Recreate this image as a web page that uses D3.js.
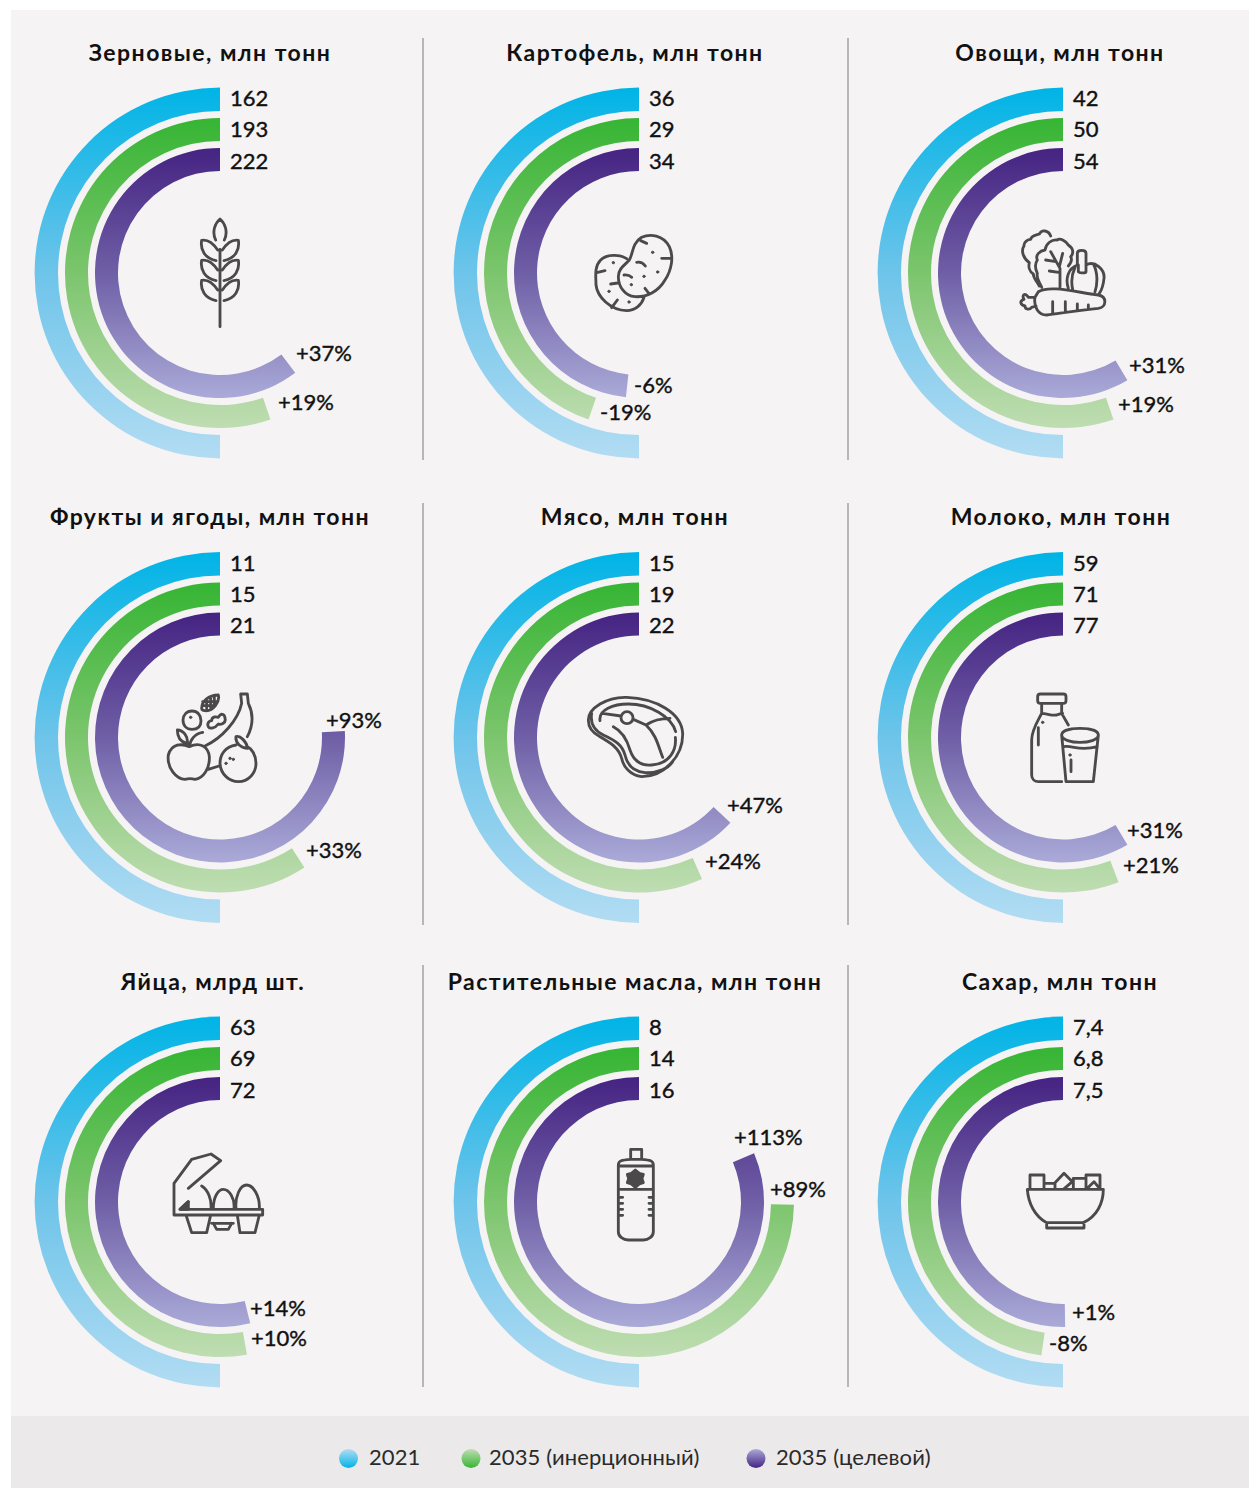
<!DOCTYPE html>
<html>
<head>
<meta charset="utf-8">
<script src="https://cdn.jsdelivr.net/npm/d3@7"></script>
<style>
body { margin: 0; background: #fff; }
text { font-family: Lato, sans-serif; fill: #111; }
.title { font-size: 23px; font-weight: 700; letter-spacing: 1.45px; text-anchor: middle; }
.val { font-size: 22px; font-weight: 400; stroke: #111; stroke-width: 0.4px; }
.pct { font-size: 22px; font-weight: 400; stroke: #111; stroke-width: 0.4px; }
.leg { font-size: 22px; font-weight: 400; fill: #2a2a2a; letter-spacing: 0.1px; }
.icon { fill: none; stroke: #4a4a4a; stroke-width: 8.5; stroke-linecap: round; stroke-linejoin: round; }
.icon .dot { fill: #4a4a4a; stroke-width: 3; }
</style>
</head>
<body>
<div id="vis"></div>
<script>
const titles = ["Зерновые, млн тонн", "Картофель, млн тонн", "Овощи, млн тонн",
    "Фрукты и ягоды, млн тонн", "Мясо, млн тонн", "Молоко, млн тонн",
    "Яйца, млрд шт.", "Растительные масла, млн тонн", "Сахар, млн тонн"];
const values2021 = [162, 36, 42, 11, 15, 59, 63, 8, 7.4];
const valuesInert = [193, 29, 50, 15, 19, 71, 69, 14, 6.8];
const valuesTarget = [222, 34, 54, 21, 22, 77, 72, 16, 7.5];
const pctInert = [19, -19, 19, 33, 24, 21, 10, 89, -8];
const pctTarget = [37, -6, 31, 93, 47, 31, 14, 113, 1];
const legendLabels = ["2021", "2035 (инерционный)", "2035 (целевой)"];
const iconNames = ["wheat", "potato", "veg", "fruit", "meat", "milk", "eggs", "oil", "sugar"];

// layout
const width = 1249, height = 1488;
const colX = [220, 639, 1063], rowY = [273, 737.5, 1202];
const titleX = [[210, 635, 1060], [210, 635, 1061], [213, 635, 1060]];
const titleY = [61, 525, 990];
const dividerX = [423, 848];
const dividerY = [[38, 460], [503, 925], [965, 1387]];
const rings = [
    { inner: 162, outer: 185.4, id: "blue", top: "#00b4e6", mid: "#6ec4ea", bottom: "#b2dcf3", labelY: -167 },
    { inner: 132, outer: 155, id: "green", top: "#36b534", mid: "#7cc56d", bottom: "#bfddb2", labelY: -136 },
    { inner: 102, outer: 125, id: "purple", top: "#452382", mid: "#6f5fa6", bottom: "#aaaad8", labelY: -104.5 }
];
// where the % labels sit, [x, middle y] of each one
const posInert = [[278, 402.5], [600, 412.5], [1118, 404.5], [306, 850.5], [705, 861.5], [1123, 865.5], [251, 1338.5], [770, 1189.5], [1049, 1343.5]];
const posTarget = [[296, 353.5], [634, 385.5], [1129, 365.5], [326, 720.5], [727, 805.5], [1127, 830.5], [250, 1308.5], [734, 1137.5], [1072, 1312.5]];

// icons are traced at 3x, origin is top left of the crop
const icons = {
    wheat: { at: [150, 190], d: `M210 410V178 M197 150C185 125 195 100 210 87C225 100 235 125 223 150
        M203 180C188 158 172 148 155 151C150 180 165 205 198 212 M217 180C232 158 248 148 265 151C270 180 255 205 222 212
        M203 240C188 218 172 208 155 211C150 240 165 265 198 272 M217 240C232 218 248 208 265 211C270 240 255 265 222 272
        M203 300C188 278 172 268 155 271C150 300 165 325 198 332 M217 300C232 278 248 268 265 271C270 300 255 325 222 332`, dots: [] },
    potato: { at: [570, 210], d: `M145 200C145 175 165 165 178 150C190 130 185 100 215 82C240 70 280 75 298 110C312 140 305 180 285 210C265 245 230 262 195 260C165 258 145 230 145 200Z
        M170 146C150 132 110 132 92 150C72 170 78 200 78 225C82 260 120 300 170 302C195 302 215 285 222 262
        M212 92L230 100 M275 145H303 M200 157C210 155 220 160 226 168 M162 195C172 194 180 197 185 202 M225 235L238 252
        M122 222L143 219 M80 188L105 182 M142 270L125 293`,
        dots: [[248, 127], [263, 186], [222, 199], [184, 224], [130, 158], [117, 244], [177, 276]] },
    veg: { at: [1000, 210], d: `M118 228C110 212 100 205 100 192C88 185 85 170 88 158C70 145 62 122 72 108C70 95 85 88 92 88C95 75 112 75 118 72C125 58 145 60 152 78
        M125 232C118 215 108 205 112 190C105 175 105 160 112 150C105 135 120 122 135 120C138 100 155 88 172 90C180 82 200 95 205 105C220 115 222 130 212 140C218 150 212 160 205 168
        M180 232V175L152 125 M168 155L137 150 M178 170L188 130 M176 187L148 183
        M232 165V130C232 118 258 118 258 130V185C258 190 240 190 235 185V165 M205 235C195 205 205 175 232 165 M258 165C285 150 315 180 312 205C310 225 305 240 298 250
        M280 162C295 190 292 225 285 245 M225 172C212 200 215 225 218 238
        M115 245C150 225 220 245 295 255C322 260 320 292 295 295C240 300 180 310 140 315C115 315 100 290 105 262Z
        M158 275V310 M196 275V305 M232 282V300 M265 285V295
        M105 262H85C75 245 65 255 72 268C58 272 60 285 75 288C75 300 90 300 95 292L108 288`, dots: [] },
    fruit: { at: [150, 680], d: `M118 200C95 190 65 190 55 225C50 265 80 298 105 298C115 295 125 295 135 298C160 295 180 265 178 230C175 200 150 185 118 200Z
        M118 200C120 180 135 160 158 157 M110 190C90 185 82 170 82 150C100 150 115 170 112 190
        M258 195C225 200 210 225 210 250C212 285 240 305 265 305C295 305 318 280 318 250C318 225 305 205 290 200
        M258 170C270 165 290 185 293 205C275 205 255 190 258 170Z
        M165 198C215 175 265 120 275 70L272 42H292L295 70C310 100 310 135 292 170 M175 268L207 258
        M153 122C153 140 142 148 126 148C110 148 99 137 99 120C99 105 110 93 126 93C142 93 153 105 153 122Z
        M155 85C155 65 175 45 205 45C210 65 190 95 165 92C160 92 155 90 155 85Z M170 60V85 M182 50V85 M193 50V75 M158 65H202 M158 77H195
        M175 140C170 130 178 122 185 122C185 108 200 110 205 112C215 95 225 105 225 115C230 130 210 135 205 132C195 145 180 148 175 140Z`,
        dots: [[122, 112], [228, 250], [240, 235], [250, 238]] },
    meat: { at: [570, 680], d: `M55 120C55 85 110 50 170 52C260 55 335 100 338 160C340 230 280 290 215 290C180 285 160 260 155 235C145 200 115 185 90 170C70 160 55 145 55 120Z
        M65 100C60 130 70 150 100 165C130 180 155 190 165 225C172 255 190 275 225 278C265 280 295 265 308 245
        M90 122C85 90 130 72 175 72C240 72 305 110 317 155 M316 172C320 210 300 250 245 255C210 258 190 240 180 210C170 175 150 150 130 140
        M189 113C189 123 181 131 171 131C161 131 153 123 153 113C153 103 161 95 171 95C181 95 189 103 189 113Z M97 100L153 108
        M190 118L228 135C250 120 270 115 300 115 M228 135C260 165 265 200 278 232`, dots: [] },
    milk: { at: [1010, 680], d: `M91 42H160C165 42 168 46 168 50V62C168 66 165 70 160 70H91C86 70 83 66 83 62V50C83 46 86 42 91 42Z
        M95 70V100C85 120 65 150 65 180V285C65 298 75 305 85 305H155 M155 70V100L175 135
        M95 100C110 100 125 108 140 105C145 103 150 102 158 100 M85 195V143
        M155 165C155 150 185 145 210 145C235 145 265 150 265 165C265 180 235 187 210 187C185 187 155 180 155 165Z
        M155 165L168 305H250L265 165 M160 200C190 195 205 215 262 200 M183 275V240`,
        dots: [[98, 127], [180, 225]] },
    eggs: { at: [160, 1140], d: `M42 222V130L95 58L153 42L182 62L85 145 M60 208H308V225H42V222 M60 208L85 185
        M125 138C145 150 155 180 153 205 M160 205C160 170 175 148 190 148C207 148 225 175 222 205 M228 205C225 170 240 135 260 135C280 135 300 170 298 205
        M78 225L95 278H140L152 225 M232 225L240 278H285L298 225 M160 250L170 268H205L215 250 M155 250H220`, dots: [],
        fill: "M60 208L85 185V208Z" },
    oil: { at: [590, 1140], d: `M122 58V28H155V58 M85 148V75C85 62 95 60 122 58H155C180 60 190 62 190 75V148Z
        M85 148V275C85 290 100 300 115 300H160C175 300 190 290 190 275V148
        M85 172H98 M85 190H98 M85 208H98 M85 226H98 M190 172H177 M190 190H177 M190 208H177 M190 226H177
        M85 78H190`, dots: [],
        fill: "M136 90L148 100L160 103L156 116L160 128L148 132L136 142L124 132L112 128L116 116L112 103L124 100Z" },
    sugar: { at: [1010, 1160], d: `M52 88H280C280 130 260 170 220 188H110C75 170 55 130 52 88Z M110 188V204H222V188
        M60 88V45H102V88 M102 70H135V88 M135 68L162 40L187 65L160 88 M190 88V55H228 M228 88V45H270V88 M235 82L252 65L266 82`, dots: [] }
};

var svg = d3.select("#vis").append("svg")
    .attr("width", width)
    .attr("height", height)
    .style("display", "block");

svg.append("rect").attr("x", 11).attr("y", 10).attr("width", width - 11).attr("height", 1406).attr("fill", "#f5f3f4");
svg.append("rect").attr("x", 11).attr("y", 1416).attr("width", width - 11).attr("height", 72).attr("fill", "#ebe9ea");

// gradients run down the whole ring, legend dots use them upside down
var defs = svg.append("defs");
rings.forEach(r => {
    var g = defs.append("linearGradient").attr("id", "grad-" + r.id)
        .attr("gradientUnits", "userSpaceOnUse")
        .attr("x1", 0).attr("x2", 0).attr("y1", -r.outer).attr("y2", r.outer);
    g.append("stop").attr("offset", 0).attr("stop-color", r.top);
    g.append("stop").attr("offset", 0.5).attr("stop-color", r.mid);
    g.append("stop").attr("offset", 1).attr("stop-color", r.bottom);
    var l = defs.append("linearGradient").attr("id", "dot-" + r.id)
        .attr("x1", 0).attr("x2", 0).attr("y1", 0).attr("y2", 1);
    l.append("stop").attr("offset", 0).attr("stop-color", r.bottom);
    l.append("stop").attr("offset", 1).attr("stop-color", r.top);
});

// change in % to sweep: 0% is half a turn, each % adds a degree
var sweep = d3.scaleLinear().domain([0, 100]).range([Math.PI, Math.PI + 100 * Math.PI / 180]);
var arc = d3.arc().startAngle(0);

const fmtVal = d => String(d).replace(".", ",");
const fmtPct = d => (d > 0 ? "+" : "-") + Math.abs(d) + "%";

titles.forEach((title, i) => {
    var col = i % 3, row = Math.floor(i / 3);
    var cx = colX[col], cy = rowY[row];
    var panel = svg.append("g");

    panel.append("text").attr("class", "title")
        .attr("x", titleX[row][col]).attr("y", titleY[row]).text(title);

    var g = panel.append("g").attr("transform", "translate(" + cx + "," + cy + ")");
    var pcts = [0, pctInert[i], pctTarget[i]];
    var vals = [values2021[i], valuesInert[i], valuesTarget[i]];

    g.selectAll("path.ring").data(rings).enter().append("path")
        .attr("class", "ring")
        .attr("fill", d => "url(#grad-" + d.id + ")")
        .attr("d", (d, k) => arc({ innerRadius: d.inner, outerRadius: d.outer, endAngle: -sweep(pcts[k]) }));

    g.selectAll("text.val").data(rings).enter().append("text")
        .attr("class", "val")
        .attr("x", 10)
        .attr("y", d => d.labelY)
        .text((d, k) => fmtVal(vals[k]));

    [[pctInert[i], posInert[i]], [pctTarget[i], posTarget[i]]].forEach(p => {
        panel.append("text").attr("class", "pct")
            .attr("x", p[1][0]).attr("y", p[1][1]).attr("dy", "0.36em")
            .text(fmtPct(p[0]));
    });

    var ic = icons[iconNames[i]];
    var ig = panel.append("g").attr("class", "icon")
        .attr("transform", "translate(" + ic.at[0] + "," + ic.at[1] + ") scale(" + (1 / 3) + ")");
    ig.append("path").attr("d", ic.d);
    ig.selectAll("circle").data(ic.dots).enter().append("circle")
        .attr("class", "dot").attr("cx", d => d[0]).attr("cy", d => d[1]).attr("r", 3.5);
    if (ic.fill) ig.append("path").attr("d", ic.fill).attr("fill", "#4a4a4a");
});

dividerX.forEach(x => {
    dividerY.forEach(y => {
        svg.append("line").attr("x1", x).attr("x2", x).attr("y1", y[0]).attr("y2", y[1])
            .attr("stroke", "#a3a3a3").attr("stroke-width", 1.5);
    });
});

const legendDotX = [348.5, 471, 756], legendTextX = [369, 489, 776];
legendLabels.forEach((t, i) => {
    svg.append("circle").attr("cx", legendDotX[i]).attr("cy", 1458.5).attr("r", 9.5)
        .attr("fill", "url(#dot-" + rings[i].id + ")");
    svg.append("text").attr("class", "leg").attr("x", legendTextX[i]).attr("y", 1465).text(t);
});
</script>
</body>
</html>
